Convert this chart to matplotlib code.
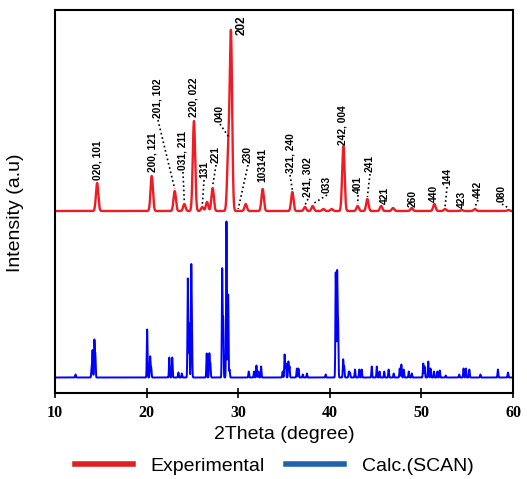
import matplotlib.pyplot as plt
import numpy as np

# Experimental XRD peaks (2theta in degrees, height in arbitrary units)
exp_pos = [14.6, 20.56, 23.07, 24.12, 25.17, 26.08, 26.6, 27.21, 28.92, 29.21,
           30.82, 32.67, 35.91, 37.29, 38.13, 39.3, 40.2, 41.48, 43.04, 44.1,
           45.6, 46.9, 48.94, 51.41, 52.58, 54.4, 55.85, 59.5]
exp_int = [28, 35, 20, 7, 90, 4, 9, 23, 58, 176,
           7, 22, 19, 4, 5, 2, 2, 65, 5, 12,
           5, 3, 3, 7, 2, 1, 2, 1]

# Calculated pattern (SCAN)
calc_pos = [12.24, 14.0, 14.1, 14.3, 14.4, 20.06, 20.39, 20.5, 22.48, 22.8,
            23.47, 23.84, 24.5, 24.65, 24.87, 24.94, 26.56, 26.85, 26.96, 28.25,
            28.36, 28.72, 28.9, 29.05, 31.15, 31.73, 31.99, 32.2, 32.5, 34.85,
            35.07, 35.2, 35.48, 35.6, 36.4, 36.58, 37.05, 37.5, 39.55, 40.65,
            40.8, 40.9, 41.46, 41.57, 42.08, 42.2, 42.75, 43.22, 43.48, 44.58,
            45.13, 45.43, 45.94, 46.42, 46.97, 47.63, 47.81, 48.07, 48.62, 48.95,
            50.2, 50.35, 50.75, 51.0, 51.37, 51.74, 52.0, 52.66, 54.13, 54.6,
            54.86, 55.23, 56.44, 58.35, 59.45]
calc_int = [3, 10, 27, 37, 23, 48, 21, 10, 20, 20,
            5, 4, 99, 54, 101, 48, 24, 24, 14, 108,
            58, 156, 83, 8, 6, 6, 12, 6, 11, 6,
            23, 14, 16, 11, 9, 9, 3, 4, 3, 105,
            105, 55, 18, 11, 6, 5, 8, 8, 8, 11,
            11, 6, 6, 8, 4, 9, 13, 8, 6, 4,
            14, 11, 16, 9, 6, 6, 7, 2, 3, 9,
            9, 8, 3, 8, 5]

# Miller index labels: text, peak position they point to
hkl_text = ['020, 101', '200, 121', '201, 102', '031, 211', '220, 022', '131', '221',
            '040', '202', '230', '103141', '321, 240', '241, 302', '033', '242, 004',
            '401', '241', '421', '260', '440', '144', '423', '442', '080']
hkl_peak = [14.6, 20.56, 23.07, 24.12, 25.17, 26.08, 27.21,
            28.92, 29.21, 30.0, 32.67, 35.91, 37.29, 38.13, 41.48,
            43.04, 44.1, 45.6, 48.94, 51.41, 52.58, 54.4, 55.85, 59.5]

# label layout: text centre x, text bottom y, draw leader?
lab_x = [14.59, 20.59, 21.24, 23.97, 25.07, 26.27, 27.58,
         28.01, 30.41, 31.07, 32.6, 35.66, 37.62, 39.7, 41.44,
         43.08, 44.39, 46.03, 49.08, 51.38, 52.8, 54.43, 56.18, 58.8]
lab_y = [213, 221, 275, 223, 276, 215, 230,
         271, 358, 230, 211, 220, 196, 200, 248,
         200, 221, 189, 186, 191, 208, 185, 195, 191]
leader = [0, 0, 1, 1, 0, 1, 1,
          1, 0, 1, 0, 1, 1, 1, 0,
          1, 1, 0, 0, 0, 1, 0, 1, 1]

exp_base = 182
calc_base = 15.5

x = np.arange(10, 60.001, 0.005)


def profile(pos, inten, width):
    y = np.zeros_like(x)
    for p, h in zip(pos, inten):
        y += h * np.exp(-0.5 * ((x - p) / width) ** 2)
    return y


y_exp = exp_base + profile(exp_pos, exp_int, 0.13)
y_calc = calc_base + profile(calc_pos, calc_int, 0.04)

fig = plt.figure(figsize=(5.27, 4.79), dpi=100)
ax = fig.add_axes([55 / 527, 1 - 393 / 479, 458 / 527, 383 / 479])

ax.plot(x, y_calc, color='#0000ff', linewidth=1.4)
ax.plot(x, y_exp, color='#ee1c24', linewidth=1.7)

for txt, pk, tx, ty, ld in zip(hkl_text, hkl_peak, lab_x, lab_y, leader):
    size = 8.5 if txt == '202' else 7.4
    ax.text(tx, ty, txt, rotation=90, ha='center', va='bottom',
            fontsize=size, fontweight='bold', family='Liberation Sans')
    if ld:
        py = np.interp(pk, x, y_exp) + 2
        ax.plot([tx, pk], [ty - 2, py], color='black', linestyle=':', linewidth=1.2)

ax.set_xlim(10, 60)
ax.set_ylim(0, 383)
ax.set_xticks([10, 20, 30, 40, 50, 60])
ax.set_yticks([])
ax.tick_params(axis='x', direction='inout', length=7, width=1.2, pad=5)
for lbl in ax.get_xticklabels():
    lbl.set_fontfamily('Liberation Serif')
    lbl.set_fontweight('bold')
    lbl.set_fontsize(11.5)
for s in ax.spines.values():
    s.set_linewidth(1.5)

ax.set_xlabel('2Theta (degree)', fontsize=14, family='Liberation Sans', labelpad=4)
ax.set_ylabel('Intensity (a.u)', fontsize=14, family='Liberation Sans')
ax.yaxis.set_label_coords(-0.068, 0.47)

h1, = ax.plot([], [], color='#e02020', linewidth=4)
h2, = ax.plot([], [], color='#1f63ad', linewidth=4)
fig.legend([h1, h2], ['Experimental', 'Calc.(SCAN)'], loc='center',
           bbox_to_anchor=(0.52, 0.027), ncol=2, frameon=False,
           handlelength=3.0, handletextpad=0.9, columnspacing=1.1,
           prop={'family': 'Liberation Sans', 'size': 14})

fig.savefig('out.png', dpi=100)
